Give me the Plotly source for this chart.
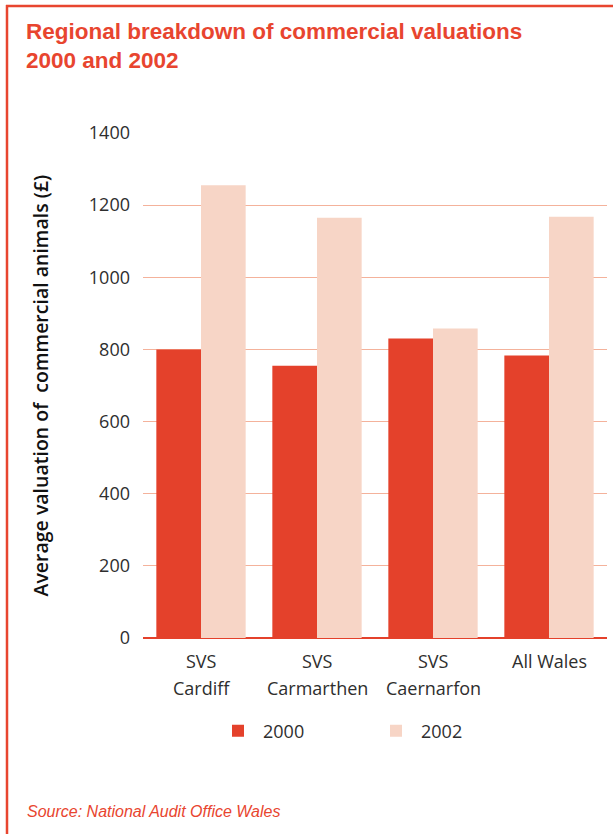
import plotly.graph_objects as go

# Regional commercial valuations (average value of commercial animals, £)
categories = ["SVS<br>Cardiff", "SVS<br>Carmarthen", "SVS<br>Caernarfon", "All Wales"]
values_2000 = [800, 755, 830, 783]
values_2002 = [1255, 1165, 858, 1168]
series_names = ["2000", "2002"]
y_ticks = [0, 200, 400, 600, 800, 1000, 1200, 1400]

RED = "#e4412b"
PINK = "#f7d5c6"
TITLE_RED = "#e8452f"
GRID = "#f4b29b"
TEXT = "#2e2e2e"

W, H = 613, 834
ML, MR, MT, MB = 143, 6, 133, 196
PW, PH = W - ML - MR, H - MT - MB


def px_x(p):
    return (p - ML) / PW


def px_y(p):
    return (H - MB - p) / PH


fig = go.Figure()
fig.add_trace(go.Bar(x=categories, y=values_2000, name=series_names[0],
                     marker=dict(color=RED, line=dict(width=0))))
fig.add_trace(go.Bar(x=categories, y=values_2002, name=series_names[1],
                     marker=dict(color=PINK, line=dict(width=0))))

annotations = []
# category labels, one annotation per line for wider line spacing
for cat in categories:
    lines = cat.split("<br>")
    for i, line in enumerate(lines):
        annotations.append(dict(
            x=cat, xref="x", y=px_y(661 + 27 * i), yref="paper",
            text=line, showarrow=False, xanchor="center", yanchor="middle",
            font=dict(family="Open Sans", size=18, color=TEXT)))

# y axis title
annotations.append(dict(
    x=px_x(40), xref="paper", y=0.5, yref="paper", textangle=-90,
    text="Average valuation of  commercial animals (£)", showarrow=False,
    xanchor="center", yanchor="middle",
    font=dict(family="Open Sans", size=19.5, color="#111111", weight=600)))

# chart title
annotations.append(dict(
    x=px_x(24), xref="paper", y=px_y(17), yref="paper",
    text="Regional breakdown of commercial valuations<br>2000 and 2002",
    showarrow=False, xanchor="left", yanchor="top", align="left",
    font=dict(family="Liberation Sans", size=22.5, color=TITLE_RED, weight="bold")))

# source note
annotations.append(dict(
    x=px_x(25), xref="paper", y=px_y(812), yref="paper",
    text="<i>Source: National Audit Office Wales</i>",
    showarrow=False, xanchor="left", yanchor="middle",
    font=dict(family="Liberation Sans Narrow, Liberation Sans", size=16, color=TITLE_RED)))

shapes = [
    # frame: left and top rules
    dict(type="line", xref="paper", yref="paper",
         x0=px_x(7), x1=px_x(7), y0=px_y(5), y1=px_y(H + 2),
         line=dict(color=TITLE_RED, width=2.5)),
    dict(type="line", xref="paper", yref="paper",
         x0=px_x(6), x1=px_x(W + 2), y0=px_y(6), y1=px_y(6),
         line=dict(color=TITLE_RED, width=2.5)),
]

fig.update_layout(
    width=W, height=H,
    margin=dict(l=ML, r=MR, t=MT, b=MB, autoexpand=False),
    paper_bgcolor="white", plot_bgcolor="white",
    barmode="group", bargap=0.23, bargroupgap=0,
    showlegend=True,
    legend=dict(orientation="h", x=px_x(213), y=px_y(731),
                xanchor="left", yanchor="middle",
                itemwidth=40,
                entrywidth=103, entrywidthmode="pixels",
                font=dict(family="Open Sans", size=18, color=TEXT),
                bgcolor="rgba(0,0,0,0)"),
    xaxis=dict(showticklabels=False, showgrid=False, ticks="",
               showline=False, zeroline=False, range=[-0.5, 3.5]),
    yaxis=dict(range=[0, 1400], tickvals=y_ticks, showgrid=True,
               gridcolor=GRID, gridwidth=1.2, zeroline=True,
               zerolinecolor=RED, zerolinewidth=1.5, showline=False,
               ticks="", ticklabelstandoff=12,
               tickfont=dict(family="Open Sans", size=18, color=TEXT)),
    annotations=annotations,
    shapes=shapes,
)

fig.write_html("out.html")
